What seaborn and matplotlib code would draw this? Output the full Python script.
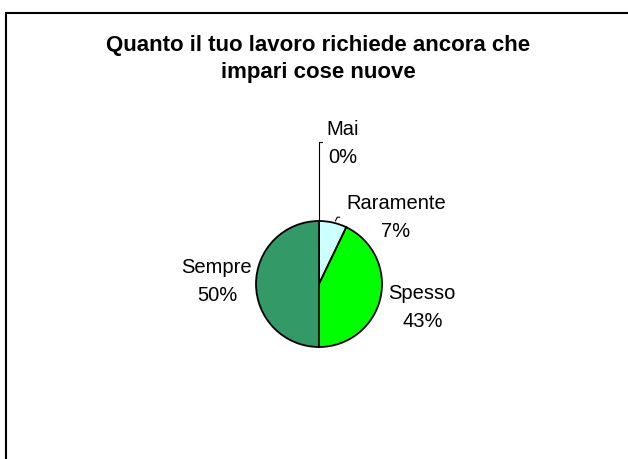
import numpy as np
import matplotlib
matplotlib.use("Agg")
import matplotlib.pyplot as plt
from matplotlib.lines import Line2D
import seaborn as sns

# Data
categories = ["Mai", "Raramente", "Spesso", "Sempre"]
counts = [0, 1, 6, 7]
pct_labels = ["0%", "7%", "43%", "50%"]
colors = ["#FFFFFF", "#CCFFFF", "#00FF00", "#339966"]
title = "Quanto il tuo lavoro richiede ancora che\nimpari cose nuove"

sns.set_theme(style="white")
plt.rcParams['font.family'] = ['Liberation Sans', 'DejaVu Sans']

W, H = 628, 460
fig = plt.figure(figsize=(W / 100, H / 100), dpi=100)
fig.patch.set_facecolor("white")

# frame (cut at right/bottom as in the reference)
fig.add_artist(Line2D([5.5 / W, 5.5 / W], [0, 1 - 13.5 / H], transform=fig.transFigure,
                      color="black", lw=1.5))
fig.add_artist(Line2D([5.5 / W, 1], [1 - 13.5 / H, 1 - 13.5 / H], transform=fig.transFigure,
                      color="black", lw=1.5))

fig.text(318 / W, 1 - 59 / H, title, ha="center", va="center", fontsize=16,
         fontweight="bold", linespacing=1.4, color="black")

# pie axes: centre (319, 285) px, radius 63 px
cx, cy, r = 319, 285, 63
ax = fig.add_axes([(cx - r) / W, (H - cy - r) / H, 2 * r / W, 2 * r / H])

wedges, _ = ax.pie(counts, colors=colors, startangle=90, counterclock=False, radius=1,
                   wedgeprops=dict(edgecolor="black", linewidth=1.3))
ax.set_xlim(-1, 1)
ax.set_ylim(-1, 1)
ax.axis("off")

# label positions (in pie-radius units)
label_pos = {
    "Mai": (0.38, 2.24),
    "Raramente": (1.22, 1.07),
    "Spesso": (1.64, -0.35),
    "Sempre": (-1.62, 0.05),
}
for cat, pct in zip(categories, pct_labels):
    x, y = label_pos[cat]
    ax.text(x, y, f"{cat}\n{pct}", ha="center", va="center", fontsize=14.5,
            linespacing=1.6, color="black", clip_on=False)

# leader lines
ax.add_line(Line2D([0, 0, 0.05], [1, 2.25, 2.25], color="black", lw=0.8, clip_on=False))
ax.add_line(Line2D([0.26, 0.29, 0.33], [1.0, 1.06, 1.06], color="black", lw=0.8, clip_on=False))

fig.savefig("out.png", dpi=100, facecolor="white")
